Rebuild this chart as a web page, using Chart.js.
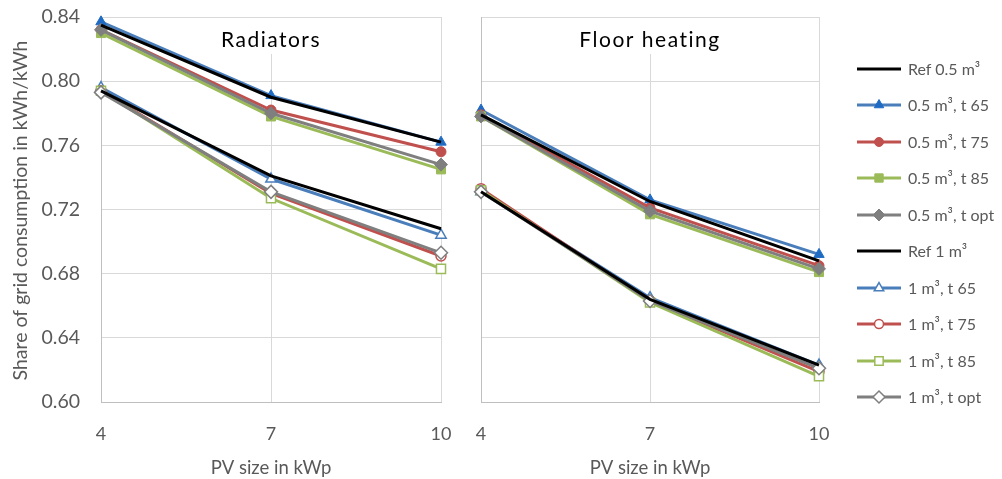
<!DOCTYPE html>
<html>
<head>
<meta charset="utf-8">
<script src="https://cdn.jsdelivr.net/npm/chart.js@4/dist/chart.umd.min.js"></script>
<style>
  body { margin: 0; background: #fff; }
  #wrap { position: relative; width: 1002px; height: 479px; overflow: hidden; font-family: Lato, sans-serif; }
  #wrap canvas.panel { position: absolute; }
  #legend { position: absolute; left: 855px; top: 0; }
  .item { position: absolute; left: 0; height: 20px; white-space: nowrap; }
  .item canvas { position: absolute; left: 0; top: 0; }
  .item span { position: absolute; left: 53px; top: 0; line-height: 20px; font-size: 16px; color: #595959; }
</style>
</head>
<body>
<div id="wrap">
  <canvas id="radiators" class="panel" width="481" height="502" style="left:0;top:-23px"></canvas>
  <canvas id="floor" class="panel" width="407" height="479" style="left:452px;top:0"></canvas>
  <div id="legend"></div>
</div>
<script>
/* data */
const pvSizes = ['4', '7', '10'];
const seriesNames = ['Ref 0.5 m³', '0.5 m³, t 65', '0.5 m³, t 75', '0.5 m³, t 85', '0.5 m³, t opt',
                     'Ref 1 m³', '1 m³, t 65', '1 m³, t 75', '1 m³, t 85', '1 m³, t opt'];

// Radiators
const radRef05  = [0.835, 0.790, 0.762];
const radT65_05 = [0.837, 0.791, 0.762];
const radT75_05 = [0.832, 0.782, 0.756];
const radT85_05 = [0.830, 0.778, 0.745];
const radOpt05  = [0.832, 0.780, 0.748];
const radRef1   = [0.794, 0.741, 0.708];
const radT65_1  = [0.796, 0.739, 0.704];
const radT75_1  = [0.794, 0.730, 0.691];
const radT85_1  = [0.794, 0.727, 0.683];
const radOpt1   = [0.793, 0.731, 0.693];

// Floor heating
const flrRef05  = [0.779, 0.725, 0.688];
const flrT65_05 = [0.782, 0.726, 0.692];
const flrT75_05 = [0.779, 0.721, 0.685];
const flrT85_05 = [0.778, 0.717, 0.681];
const flrOpt05  = [0.778, 0.719, 0.683];
const flrRef1   = [0.731, 0.664, 0.623];
const flrT65_1  = [0.731, 0.665, 0.623];
const flrT75_1  = [0.733, 0.663, 0.619];
const flrT85_1  = [0.732, 0.662, 0.616];
const flrOpt1   = [0.731, 0.663, 0.621];

const yTicks = [0.60, 0.64, 0.68, 0.72, 0.76, 0.80, 0.84];
const yTitle = 'Share of grid consumption in kWh/kWh';

/* styles */
const FONT = 'Lato, sans-serif';
const lineColors   = ['#000000', '#4a7ebb', '#c0504d', '#9bbb59', '#7f7f7f',
                      '#000000', '#4a7ebb', '#c0504d', '#9bbb59', '#7f7f7f'];
const markerColors = [null, '#1f6bc4', '#c0504d', '#9bbb59', '#7f7f7f',
                      null, '#4a7ebb', '#c0504d', '#9bbb59', '#7f7f7f'];
const markerStyles = [false, 'triangle', 'circle', 'rect', 'rectRot',
                      false, 'triangle', 'circle', 'rect', 'rectRot'];
const markerSizes  = [0, 6, 5, 6.4, 6.5, 0, 6, 5, 6.4, 6.5];
const filled       = [true, true, true, true, true, false, false, false, false, false];
const drawOrder    = [0, 4, 3, 2, 1, 0, 4, 3, 2, 1];

function buildDatasets(values) {
    return values.map((v, i) => ({
        label: seriesNames[i],
        data: v,
        borderColor: lineColors[i],
        backgroundColor: lineColors[i],
        borderWidth: 3,
        tension: 0,
        pointStyle: markerStyles[i],
        pointRadius: markerSizes[i],
        pointBackgroundColor: filled[i] ? markerColors[i] : '#ffffff',
        pointBorderColor: markerColors[i] || lineColors[i],
        pointBorderWidth: filled[i] ? 1 : 1.5,
        order: drawOrder[i],
        clip: false
    }));
}

/* panel title inside the plot area (on a white box) and the rotated y title */
const panelTitle = {
    id: 'panelTitle',
    beforeDatasetsDraw(chart, args, opts) {
        const { ctx, chartArea } = chart;
        ctx.save();
        ctx.font = '21px ' + FONT;
        ctx.letterSpacing = '1.5px';
        const w = ctx.measureText(opts.text).width;
        const cx = (chartArea.left + chartArea.right) / 2;
        ctx.fillStyle = '#ffffff';
        ctx.fillRect(cx - w / 2 - 6, chartArea.top + 1, w + 12, 36);
        ctx.fillStyle = '#000000';
        ctx.textAlign = 'center';
        ctx.textBaseline = 'middle';
        ctx.fillText(opts.text, cx, chartArea.top + 23);
        ctx.restore();
    },
    afterDraw(chart, args, opts) {
        if (!opts.yTitle) return;
        const { ctx, chartArea } = chart;
        ctx.save();
        ctx.font = '19.5px ' + FONT;
        ctx.fillStyle = '#595959';
        ctx.textAlign = 'center';
        ctx.textBaseline = 'middle';
        ctx.translate(21, (chartArea.top + chartArea.bottom) / 2 + 1);
        ctx.rotate(-Math.PI / 2);
        ctx.fillText(opts.yTitle, 0, 0);
        ctx.restore();
    }
};

function makeOptions(isLeft, title) {
    return {
        responsive: false,
        animation: false,
        layout: { padding: { left: 0, right: 40, top: isLeft ? 40 : 17, bottom: 0 } },
        plugins: {
            legend: { display: false },
            tooltip: { enabled: false },
            panelTitle: { text: title, yTitle: isLeft ? yTitle : null }
        },
        scales: {
            x: {
                offset: false,
                grid: { color: '#d9d9d9', drawTicks: false },
                border: { color: '#bfbfbf' },
                ticks: { padding: 21, color: '#595959', font: { size: 18, family: FONT } },
                title: {
                    display: true, text: 'PV size in kWp', color: '#595959',
                    font: { size: 18.5, family: FONT }, padding: { top: 2, bottom: 0 }
                },
                afterFit(s) { s.height = 77; }
            },
            y: {
                min: yTicks[0],
                max: yTicks[yTicks.length - 1],
                grid: { color: '#d9d9d9', drawTicks: false },
                border: { color: '#bfbfbf' },
                afterBuildTicks(s) { s.ticks = yTicks.map(v => ({ value: v })); },
                ticks: {
                    display: isLeft, padding: 21, color: '#595959',
                    font: { size: 19.5, family: FONT },
                    callback: v => Number(v).toFixed(2)
                },
                afterFit(s) { s.width = isLeft ? 101 : 29; }
            }
        }
    };
}

function panel(id, values, isLeft, title) {
    return new Chart(document.getElementById(id), {
        type: 'line',
        data: { labels: pvSizes, datasets: buildDatasets(values) },
        options: makeOptions(isLeft, title),
        plugins: [panelTitle]
    });
}

panel('radiators', [radRef05, radT65_05, radT75_05, radT85_05, radOpt05,
                    radRef1, radT65_1, radT75_1, radT85_1, radOpt1], true, 'Radiators');
panel('floor', [flrRef05, flrT65_05, flrT75_05, flrT85_05, flrOpt05,
                flrRef1, flrT65_1, flrT75_1, flrT85_1, flrOpt1], false, 'Floor heating');

/* legend: line sample with marker, like the chart */
const legend = document.getElementById('legend');
seriesNames.forEach((name, i) => {
    const item = document.createElement('div');
    item.className = 'item';
    item.style.top = (59 + i * 36.45) + 'px';
    const c = document.createElement('canvas');
    c.width = 48; c.height = 20;
    const ctx = c.getContext('2d');
    ctx.strokeStyle = lineColors[i];
    ctx.lineWidth = 3;
    ctx.beginPath();
    ctx.moveTo(2, 10); ctx.lineTo(46, 10);
    ctx.stroke();
    if (markerStyles[i]) {
        ctx.fillStyle = filled[i] ? markerColors[i] : '#ffffff';
        ctx.strokeStyle = markerColors[i];
        ctx.lineWidth = filled[i] ? 1 : 1.5;
        Chart.helpers.drawPoint(ctx, {
            pointStyle: markerStyles[i], radius: markerSizes[i] - 0.5, rotation: 0,
            borderWidth: ctx.lineWidth
        }, 24, 10);
    }
    const label = document.createElement('span');
    label.textContent = name;
    item.appendChild(c);
    item.appendChild(label);
    legend.appendChild(item);
});
</script>
</body>
</html>
